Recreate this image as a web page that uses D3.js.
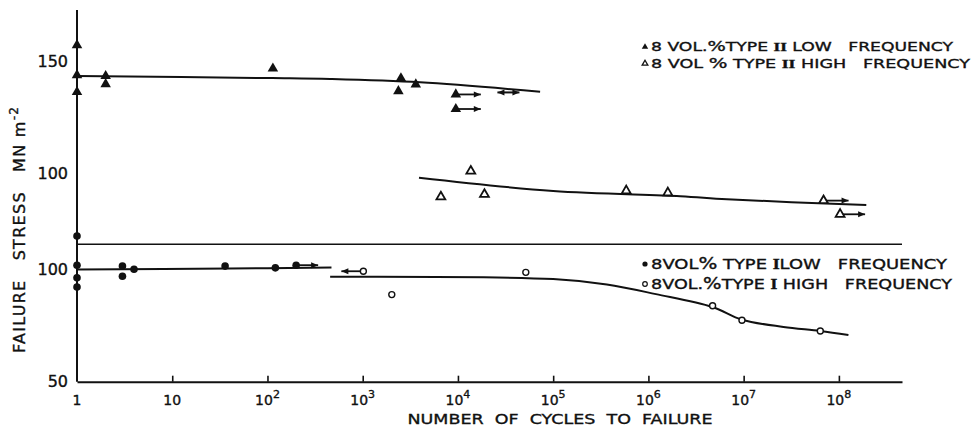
<!DOCTYPE html>
<html>
<head>
<meta charset="utf-8">
<script src="https://cdn.jsdelivr.net/npm/d3@7/dist/d3.min.js"></script>
<style>
  html, body { margin: 0; padding: 0; background: #fff; }
  svg { display: block; }
  text { font-family: "DejaVu Sans", sans-serif; fill: #111; stroke: #111; stroke-width: 0.35; white-space: pre; }
</style>
</head>
<body>
<svg id="chart" width="974" height="426"></svg>
<script>
// ---- data ---------------------------------------------------------------
// Type II (upper panel), stress in MN m^-2 against cycles to failure
const typeIILow = [
  [1, 157.4], [1, 144.0], [1, 136.5],
  [2, 143.6], [2, 140.0],
  [114, 147.0],
  [2520, 142.6], [2370, 136.9], [3610, 139.9],
  [9500, 135.4], [9500, 128.9]
];
const typeIIHigh = [
  [6620, 89.7], [13650, 101.2], [18980, 90.8],
  [5.85e5, 92.4], [1.6e6, 91.5],
  [6.9e7, 88.0], [1.03e8, 81.9]
];
const fitIILow = [[1, 143.6], [112, 142.7], [455, 142.3], [4010, 140.8], [72900, 136.6]];
const fitIIHigh = [[3900, 98.2], [1e5, 92.3], [2.16e6, 90.0], [6.68e6, 88.6], [1.94e8, 86.0]];

// Type I (lower panel)
const typeILow = [
  [1, 114.9], [1, 101.9], [1, 96.3], [1, 92.2],
  [3.0, 101.5], [3.0, 97.0], [3.97, 100.1],
  [35.9, 101.5], [121, 100.7], [200, 101.9]
];
const typeIHigh = [
  [1016, 99.2], [2020, 88.8], [51600, 98.7],
  [4.72e6, 83.8], [9.6e6, 77.4], [6.38e7, 72.6]
];
const fitILow = [[1, 100.0], [40, 100.4], [470, 100.9]];
const fitIHigh = [[455, 96.7], [1e5, 95.7], [3.66e5, 93.3], [1.2e6, 89.0],
                  [4.68e6, 83.3], [9.6e6, 77.6], [2.62e7, 74.4], [6.38e7, 72.6], [1.26e8, 70.8]];

// run-out arrows: [cycles, stress, direction]
const arrowsII = [[9500, 135.4, 1], [9500, 128.9, 1], [33900, 136.3, 0], [6.9e7, 88.0, 1], [1.03e8, 81.9, 1]];
const arrowsI = [[200, 101.9, 1], [1016, 99.2, -1]];

const xExponents = [0, 1, 2, 3, 4, 5, 6, 7, 8];
const yTicksUpper = [100, 150];
const yTicksLower = [50, 100];

// ---- layout -------------------------------------------------------------
const svg = d3.select("#chart");
const x = d3.scaleLog().domain([1, 4.6e8]).range([77, 902]);
const yU = d3.scaleLinear().domain([68.5, 173.1]).range([244.3, 10]);
const yL = d3.scaleLinear().domain([50, 111.2]).range([381.7, 244.3]);

const ink = "#111";

// y spine
svg.append("line").attr("x1", 77).attr("x2", 77)
  .attr("y1", yU.range()[1]).attr("y2", yL.range()[0])
  .attr("stroke", ink).attr("stroke-width", 2);

// panel divider
svg.append("line").attr("x1", 77).attr("x2", x.range()[1])
  .attr("y1", yL(111.2)).attr("y2", yL(111.2))
  .attr("stroke", ink).attr("stroke-width", 1.6);

// x axis
const xAxis = d3.axisBottom(x)
  .tickValues(xExponents.filter(e => e > 0).map(e => Math.pow(10, e)))
  .tickSizeInner(-6).tickSizeOuter(0).tickFormat("");
const gx = svg.append("g").attr("transform", `translate(0,${yL.range()[0]})`).call(xAxis);
gx.select(".domain").attr("stroke", ink).attr("stroke-width", 2);
gx.selectAll(".tick line").attr("stroke", ink).attr("stroke-width", 1.6);

const xl = svg.append("g");
xExponents.forEach(e => {
  const t = xl.append("text").attr("x", x(Math.pow(10, e))).attr("y", 405)
    .attr("text-anchor", "middle").attr("font-size", 14);
  if (e === 0) t.text("1");
  else if (e === 1) t.text("10");
  else {
    t.append("tspan").text("10");
    t.append("tspan").attr("dy", -7).attr("font-size", 11).text(String(e));
  }
});

// y tick labels
function yLabels(scale, ticks) {
  const ax = d3.axisLeft(scale).tickValues(ticks).tickSize(0).tickPadding(9);
  const g = svg.append("g").attr("transform", "translate(77,0)").call(ax);
  g.select(".domain").remove();
  g.selectAll("text").attr("font-size", 16).attr("fill", ink)
    .style("font-family", '"DejaVu Sans", sans-serif');
}
yLabels(yU, yTicksUpper);
yLabels(yL, yTicksLower);

// axis titles
svg.append("text").attr("x", 560).attr("y", 424).attr("text-anchor", "middle")
  .attr("font-size", 14.5).attr("textLength", 305).attr("lengthAdjust", "spacingAndGlyphs")
  .text("NUMBER  OF  CYCLES  TO  FAILURE");

const yt = svg.append("text").attr("transform", "translate(25,353) rotate(-90)")
  .attr("font-size", 16).attr("textLength", 246).attr("lengthAdjust", "spacing");
yt.append("tspan").text("FAILURE   STRESS   MN m");
yt.append("tspan").attr("dy", -7).attr("font-size", 12).text("-2");

// ---- marks --------------------------------------------------------------
const line = (ys) => d3.line().x(d => x(d[0])).y(d => ys(d[1])).curve(d3.curveCatmullRom.alpha(0.5));
function fit(data, ys) {
  svg.append("path").datum(data).attr("d", line(ys))
    .attr("fill", "none").attr("stroke", ink).attr("stroke-width", 2);
}
fit(fitIILow, yU);
fit(fitIIHigh, yU);
fit(fitILow, yL);
fit(fitIHigh, yL);

function arrowHead(g, px, py, dir) {
  g.append("path")
    .attr("d", `M${px},${py} l${-dir * 7},-3 l0,6 Z`)
    .attr("fill", ink);
}
function arrows(data, ys, len) {
  const g = svg.append("g");
  data.forEach(([n, v, dir]) => {
    const px = x(n), py = ys(v);
    if (dir === 0) {
      g.append("line").attr("x1", px - 11).attr("x2", px + 11).attr("y1", py).attr("y2", py)
        .attr("stroke", ink).attr("stroke-width", 2);
      arrowHead(g, px - 11, py, -1);
      arrowHead(g, px + 11, py, 1);
      return;
    }
    const ex = px + dir * len;
    g.append("line").attr("x1", px).attr("x2", ex).attr("y1", py).attr("y2", py)
      .attr("stroke", ink).attr("stroke-width", 1.8);
    arrowHead(g, ex, py, dir);
  });
}
arrows(arrowsII, yU, 25);
arrows(arrowsI, yL, 22);

const triFilled = d3.symbol(d3.symbolTriangle, 48);
const triOpen = d3.symbol(d3.symbolTriangle, 34);

svg.append("g").selectAll("path").data(typeIILow).join("path")
  .attr("transform", d => `translate(${x(d[0])},${yU(d[1])})`)
  .attr("d", triFilled).attr("fill", ink);
svg.append("g").selectAll("path").data(typeIIHigh).join("path")
  .attr("transform", d => `translate(${x(d[0])},${yU(d[1])})`)
  .attr("d", triOpen).attr("fill", "#fff").attr("stroke", ink).attr("stroke-width", 1.8);
svg.append("g").selectAll("circle").data(typeILow).join("circle")
  .attr("cx", d => x(d[0])).attr("cy", d => yL(d[1])).attr("r", 3.8).attr("fill", ink);
svg.append("g").selectAll("circle").data(typeIHigh).join("circle")
  .attr("cx", d => x(d[0])).attr("cy", d => yL(d[1])).attr("r", 3)
  .attr("fill", "#fff").attr("stroke", ink).attr("stroke-width", 1.4);

// ---- legends ------------------------------------------------------------
function legendLine(lx, ly, marker, parts, width, fs) {
  const g = svg.append("g");
  if (marker === "triF") g.append("path").attr("transform", `translate(${lx},${ly - 4})`)
    .attr("d", d3.symbol(d3.symbolTriangle, 18)).attr("fill", ink);
  if (marker === "triO") g.append("path").attr("transform", `translate(${lx},${ly - 4})`)
    .attr("d", d3.symbol(d3.symbolTriangle, 14)).attr("fill", "none").attr("stroke", ink).attr("stroke-width", 1.3);
  if (marker === "dotF") g.append("circle").attr("cx", lx).attr("cy", ly - 5).attr("r", 2.6).attr("fill", ink);
  if (marker === "dotO") g.append("circle").attr("cx", lx).attr("cy", ly - 5).attr("r", 2.3)
    .attr("fill", "none").attr("stroke", ink).attr("stroke-width", 1.2);
  const t = g.append("text").attr("x", lx + 6).attr("y", ly).attr("font-size", fs)
    .attr("textLength", width).attr("lengthAdjust", "spacingAndGlyphs");
  parts.forEach(p => {
    const s = t.append("tspan").text(p.t);
    if (p.pct) s.attr("font-size", fs + 1.5);
    if (p.roman) s.attr("font-family", '"Liberation Serif", serif').attr("font-weight", "bold");
  });
}
legendLine(645, 51, "triF",
  [{t: "8 VOL."}, {t: "%", pct: true}, {t: "TYPE "}, {t: "II", roman: true}, {t: " LOW   FREQUENCY"}], 302, 12.5);
legendLine(645, 67.5, "triO",
  [{t: "8 VOL "}, {t: "%", pct: true}, {t: " TYPE "}, {t: "II", roman: true}, {t: " HIGH   FREQUENCY"}], 319, 12.5);
legendLine(645, 269, "dotF",
  [{t: "8VOL"}, {t: "%", pct: true}, {t: " TYPE "}, {t: "I", roman: true}, {t: "LOW   FREQUENCY"}], 296, 14);
legendLine(645, 289, "dotO",
  [{t: "8VOL."}, {t: "%", pct: true}, {t: "TYPE "}, {t: "I", roman: true}, {t: " HIGH   FREQUENCY"}], 301, 14);
</script>
</body>
</html>
